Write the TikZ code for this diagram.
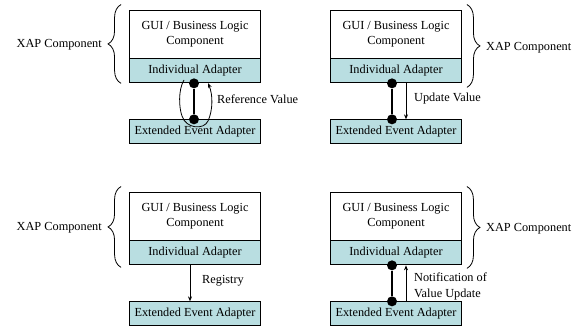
\documentclass[tikz,border=0pt]{standalone}
\usepackage{fontspec}
\setmainfont{Liberation Serif}
\usetikzlibrary{positioning,arrows.meta,decorations.pathreplacing}
\definecolor{bleuadapt}{RGB}{185,222,225}
\tikzset{
  bloc/.style={draw=black, line width=0.9pt, minimum width=131pt, inner sep=0pt, align=center, font=\fontsize{12.3}{15}\selectfont},
  comp/.style={bloc, fill=white, minimum height=48pt},
  adapt/.style={bloc, fill=bleuadapt, minimum height=24pt},
  point/.style={circle, fill=black, inner sep=0pt, minimum size=10pt},
  lien/.style={line width=1.2pt},
  fleche/.style={line width=0.8pt, -{Stealth[length=5pt,width=4pt]}},
  accol/.style={decorate, decoration={brace, amplitude=13pt}, line width=0.8pt},
  etiq/.style={font=\fontsize{12.3}{16.5}\selectfont, inner sep=0pt, align=left}
}
\begin{document}
\begin{tikzpicture}[x=1pt, y=-1pt]
    \useasboundingbox (0,0) rectangle (582,329);

    % En haut a gauche : Reference Value
    \node[comp] (gui1) at (195,34) {GUI / Business Logic\\Component};
    \node[adapt, below=0pt of gui1] (ind1) {Individual Adapter};
    \node[adapt, below=36pt of ind1] (ext1) {Extended Event Adapter};
    \node[point] (p1a) at ([xshift=-1pt]ind1.south) {};
    \node[point] (p1b) at ([xshift=-1pt]ext1.north) {};
    \draw[lien] (p1a) -- (p1b);
    \coordinate (ref1) at (184,80);
    \coordinate (ref2) at (208,83);
    \draw[fleche] (ref1) .. controls (178,90) and (179,108) .. (182,116)
        .. controls (186,129) and (204,130) .. (208,121)
        .. controls (213,110) and (213,95) .. (ref2);
    \node[etiq, anchor=west] (lab1) at (217,99) {Reference Value};
    \draw[accol] ([xshift=-8pt]ind1.south west) -- ([xshift=-8pt,yshift=5pt]gui1.north west);
    \node[etiq, anchor=east] (xap1) at (102,45) {XAP Component};

    % En haut a droite : Update Value
    \node[comp] (gui2) at (396,34) {GUI / Business Logic\\Component};
    \node[adapt, below=0pt of gui2] (ind2) {Individual Adapter};
    \node[adapt, below=36pt of ind2] (ext2) {Extended Event Adapter};
    \node[point] (p2a) at ([xshift=-4pt]ind2.south) {};
    \node[point] (p2b) at ([xshift=-4pt]ext2.north) {};
    \draw[lien] (p2a) -- (p2b);
    \draw[fleche] ([xshift=10pt]ind2.south) -- ([xshift=10pt]ext2.north);
    \node[etiq, anchor=west] (lab2) at (414,99) {Update Value};
    \draw[accol] ([xshift=5pt,yshift=5pt]gui2.north east) -- ([xshift=5pt,yshift=-4pt]ind2.south east);
    \node[etiq, anchor=west] (xap2) at (486,48) {XAP Component};

    % En bas a gauche : Registry
    \node[comp] (gui3) at (195,216) {GUI / Business Logic\\Component};
    \node[adapt, below=0pt of gui3] (ind3) {Individual Adapter};
    \node[adapt, below=36pt of ind3] (ext3) {Extended Event Adapter};
    \draw[fleche] ([xshift=-5pt]ind3.south) -- ([xshift=-5pt]ext3.north);
    \node[etiq, anchor=west] (lab3) at (202,281) {Registry};
    \draw[accol] ([xshift=-8pt,yshift=-2pt]ind3.south west) -- ([xshift=-8pt,yshift=5pt]gui3.north west);
    \node[etiq, anchor=east] (xap3) at (102,228) {XAP Component};

    % En bas a droite : Notification of Value Update
    \node[comp] (gui4) at (396,216) {GUI / Business Logic\\Component};
    \node[adapt, below=0pt of gui4] (ind4) {Individual Adapter};
    \node[adapt, below=36pt of ind4] (ext4) {Extended Event Adapter};
    \node[point] (p4a) at ([xshift=-4pt]ind4.south) {};
    \node[point] (p4b) at ([xshift=-4pt]ext4.north) {};
    \draw[lien] (p4a) -- (p4b);
    \draw[fleche] ([xshift=10pt]ext4.north) -- ([xshift=10pt]ind4.south);
    \node[etiq, anchor=west] (lab4) at (414,286.5) {Notification of\\Value Update};
    \draw[accol] ([xshift=5pt,yshift=5pt]gui4.north east) -- ([xshift=5pt,yshift=-3pt]ind4.south east);
    \node[etiq, anchor=west] (xap4) at (486,229) {XAP Component};
\end{tikzpicture}
\end{document}
